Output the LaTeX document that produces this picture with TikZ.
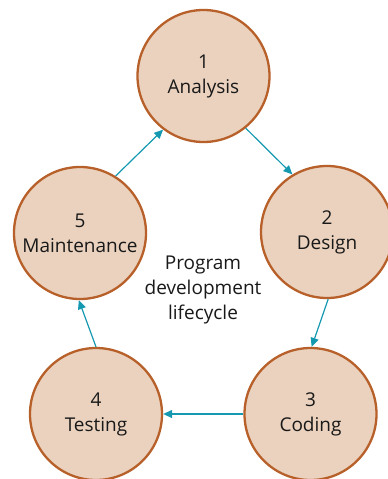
\documentclass[tikz,border=0pt]{standalone}
\usepackage{fontspec}
\setmainfont{Open Sans}
\usetikzlibrary{arrows.meta}
\definecolor{cfill}{HTML}{EAD2BE}
\definecolor{cedge}{HTML}{B8602A}
\definecolor{carrow}{HTML}{1599B0}
\tikzset{
  stage/.style={circle, draw=cedge, fill=cfill, line width=2.3pt, minimum size=132pt, inner sep=0pt, align=center, font=\fontsize{19}{25}\selectfont, text=black!90},
  flow/.style={draw=carrow, line width=1.2pt, -{Triangle[length=9pt,width=8pt]}},
  centre/.style={align=center, font=\fontsize{19}{25}\selectfont, text=black!90}
}
\begin{document}
\begin{tikzpicture}[x=1pt,y=-1pt]
\useasboundingbox (0,0) rectangle (388,479);
\node[stage] (c1) at (203.5,76) {1\\Analysis};
\node[stage] (c2) at (327,232) {2\\Design};
\node[stage] (c3) at (310.5,414) {3\\Coding};
\node[stage] (c4) at (96,414) {4\\Testing};
\node[stage] (c5) at (80,233) {5\\Maintenance};
\node[centre] (t) at (203,290) {Program\\development\\lifecycle};
\draw[flow] (c1.-51) -- (c2.121);
\draw[flow] (c2.-89) -- (c3.89);
\draw[flow] (c3.180) -- (c4.0);
\draw[flow] (c4.90) -- (c5.-91);
\draw[flow] (c5.58) -- (c1.-127);
\end{tikzpicture}
\end{document}
